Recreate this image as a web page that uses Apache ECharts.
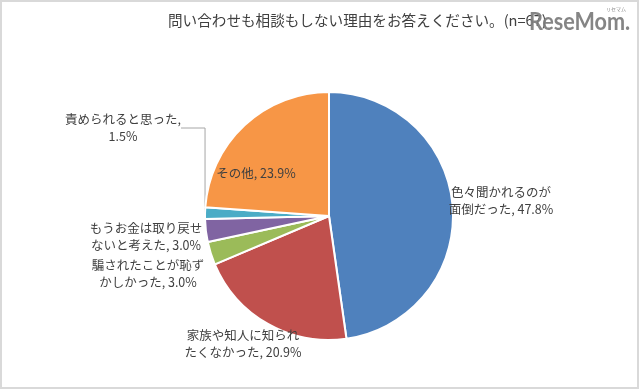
<!DOCTYPE html>
<html><head><meta charset="utf-8">
<script src="https://cdn.jsdelivr.net/npm/echarts@6/dist/echarts.min.js"></script>
<style>html,body{margin:0;padding:0;background:#fff}#c{width:640px;height:390px}</style>
</head><body><div id="c"></div>
<script>
const titleText = '問い合わせも相談もしない理由をお答えください。(n=67)';
const categories = ['色々聞かれるのが\n面倒だった', '家族や知人に知られ\nたくなかった', '騙されたことが恥ず\nかしかった', 'もうお金は取り戻せ\nないと考えた', '責められると思った,\n', 'その他'];
const values = [47.8, 20.9, 3.0, 3.0, 1.5, 23.9];
const colors = ['#4F81BD', '#C0504D', '#9BBB59', '#8064A2', '#4BACC6', '#F79646'];
const labelPos = [[501, 201], [243, 344], [148, 274], [146, 237], [123, 128], [256, 173]];

const font = '"Noto Sans CJK JP", "Noto Sans", sans-serif';
const chart = echarts.init(document.getElementById('c'), null, {renderer: 'canvas'});
const data = categories.map((n, i) => ({
  name: n, value: values[i],
  itemStyle: {color: colors[i]},
  labelLine: {show: i === 4, lineStyle: {color: '#A6A6A6', width: 1}}
}));
chart.setOption({
  animation: false,
  graphic: [
    {type: 'rect', shape: {x: 1, y: 1, width: 637, height: 387}, style: {fill: 'none', stroke: '#D9D9D9', lineWidth: 2}, silent: true},
    {type: 'text', left: 168, top: 13, z: 10, style: {text: titleText, font: '14.6px ' + font, fill: '#404040'}},
    {type: 'text', x: 529, y: 10, scaleX: 0.9, z: 20, style: {text: 'ReseMom.', font: 'bold 24px Lato, Roboto, sans-serif', fill: 'rgba(125,125,125,0.94)'}},
    {type: 'text', x: 606, y: 7, z: 20, style: {text: 'リセマム', font: '5px ' + font, fill: '#888'}}
  ],
  series: [{
    type: 'pie',
    center: [329, 216],
    radius: 124,
    startAngle: 90,
    clockwise: true,
    avoidLabelOverlap: false,
    itemStyle: {borderColor: '#fff', borderWidth: 2},
    label: {
      show: true, position: 'outside',
      fontFamily: font, fontSize: 12.5, color: '#404040', lineHeight: 17, align: 'center',
      formatter: p => p.dataIndex === 4 ? p.name + p.value.toFixed(1) + '%' : p.name + ', ' + p.value.toFixed(1) + '%'
    },
    labelLayout: p => ({x: labelPos[p.dataIndex][0], y: labelPos[p.dataIndex][1], align: 'center', verticalAlign: 'middle'}),
    data: data
  }]
});
</script></body></html>
